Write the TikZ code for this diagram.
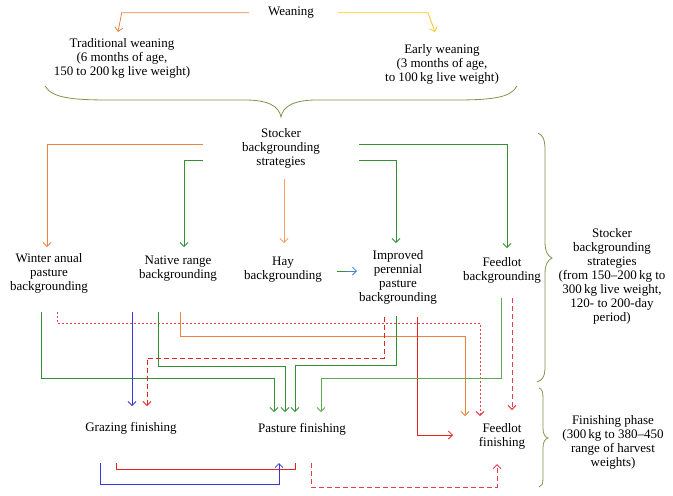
\documentclass[tikz,border=0pt]{standalone}
\usepackage{fontspec}
\setmainfont{Liberation Serif}
\usetikzlibrary{arrows.meta}
\definecolor{orng}{RGB}{236,130,62}
\definecolor{lorng}{RGB}{245,160,100}
\definecolor{yel}{RGB}{245,200,40}
\definecolor{grn}{RGB}{50,145,50}
\definecolor{lgrn}{RGB}{95,170,85}
\definecolor{brc}{RGB}{125,150,75}
\definecolor{rd}{RGB}{230,35,35}
\definecolor{prd}{RGB}{235,60,75}
\definecolor{blu}{RGB}{55,55,215}
\definecolor{tblu}{RGB}{70,130,200}
\begin{document}
\begin{tikzpicture}[x=1pt,y=-1pt,
  lbl/.style={align=center,font=\fontsize{13}{14}\selectfont,inner sep=1pt},
  conn/.style={line width=0.8pt},
  arr/.style={conn,-{Straight Barb[length=4pt,width=8pt]}},
  bracestyle/.style={draw=brc,line width=0.8pt},
  dsh/.style={dash pattern=on 5pt off 3pt},
  dtt/.style={dash pattern=on 1.5pt off 2.5pt}]
\useasboundingbox (0,0) rectangle (673,496);
% nodes
\node[lbl] (wean) at (291,13) {Weaning};
\node[lbl] (trad) at (122,58) {Traditional weaning\\(6 months of age,\\150 to 200\,kg live weight)};
\node[lbl] (early) at (442,64.5) {Early weaning\\(3 months of age,\\to 100\,kg live weight)};
\node[lbl] (stock) at (281,148) {Stocker\\backgrounding\\strategies};
\node[lbl] (winter) at (49,273.5) {Winter anual\\pasture\\backgrounding};
\node[lbl] (native) at (178,269) {Native range\\backgrounding};
\node[lbl] (hay) at (283,269.5) {Hay\\backgrounding};
\node[lbl] (impr) at (398,277) {Improved\\perennial\\pasture\\backgrounding};
\node[lbl] (fbg) at (502,270) {Feedlot\\backgrounding};
\node[lbl] (lab1) at (612,276.5) {Stocker\\backgrounding\\strategies\\(from 150--200\,kg to\\300\,kg live weight,\\120- to 200-day\\period)};
\node[lbl] (graz) at (131,428) {Grazing finishing};
\node[lbl] (past) at (302,429) {Pasture finishing};
\node[lbl] (ffin) at (502,436.5) {Feedlot\\finishing};
\node[lbl] (lab2) at (613,442) {Finishing phase\\(300\,kg to 380--450\\range of harvest\\weights)};
% braces
\draw[bracestyle] (45,86) .. controls (52,98) and (72,100) .. (110,100) -- (245,100)
  .. controls (268,100) and (279,106) .. (281,117) .. controls (283,106) and (294,100) .. (317,100)
  -- (455,100) .. controls (495,100) and (511,97) .. (517,86);
\draw[bracestyle] (538,133) .. controls (543,135) and (545,140) .. (545,150) -- (545,242)
  .. controls (545,252) and (548,256) .. (552,258) .. controls (548,260) and (545,264) .. (545,274)
  -- (545,366) .. controls (545,376) and (543,380) .. (537,382);
\draw[bracestyle] (539,388) .. controls (542,389) and (543,392) .. (543,398) -- (543,428)
  .. controls (543,434) and (545,437) .. (548,438) .. controls (545,439) and (543,442) .. (543,448)
  -- (543,478) .. controls (543,484) and (542,486) .. (539,487);
% weaning
\draw[arr,orng] (249,12.7) -- (121.7,12.7) -- (118,32);
\draw[arr,yel] (338,12.7) -- (428,12.7) -- (435,32);
% stocker strategies
\draw[arr,orng] (203,144) -| (47,247);
\draw[arr,grn] (203,160) -| (184,247);
\draw[arr,lorng] (284,179) -- (284,243);
\draw[arr,grn] (359,160) -| (396,243);
\draw[arr,grn] (359,144) -| (507,248);
\draw[conn,grn] (337,271) -- (346,271);
\draw[arr,tblu] (346,271) -- (357,271);
% to finishing
\draw[arr,grn] (41.7,312) |- (274,378) -- (274,412);
\draw[arr,prd,dtt,line width=1pt] (57,312) |- (480,323) -- (480,416);
\draw[arr,blu] (132,312) -- (132,406);
\draw[arr,grn] (158,312) |- (285,366) -- (285,412);
\draw[arr,orng] (180,312) |- (465,336) -- (465,416);
\draw[arr,rd,dsh] (384,317) |- (147,358) -- (147,406);
\draw[arr,grn] (396,316) |- (295,365) -- (295,412);
\draw[arr,rd] (417,317) |- (453,435);
\draw[arr,lgrn] (501,298) |- (321,378) -- (321,412);
\draw[arr,prd,dsh,line width=1pt] (512,298) -- (512,410);
% bottom
\draw[conn,rd] (116,463) |- (295,469) -- (295,463);
\draw[arr,blu] (100,463) |- (279,484) -- (279,463);
\draw[arr,prd,dsh,line width=1pt] (311,463) |- (497,487) -- (497,464);
\end{tikzpicture}
\end{document}
